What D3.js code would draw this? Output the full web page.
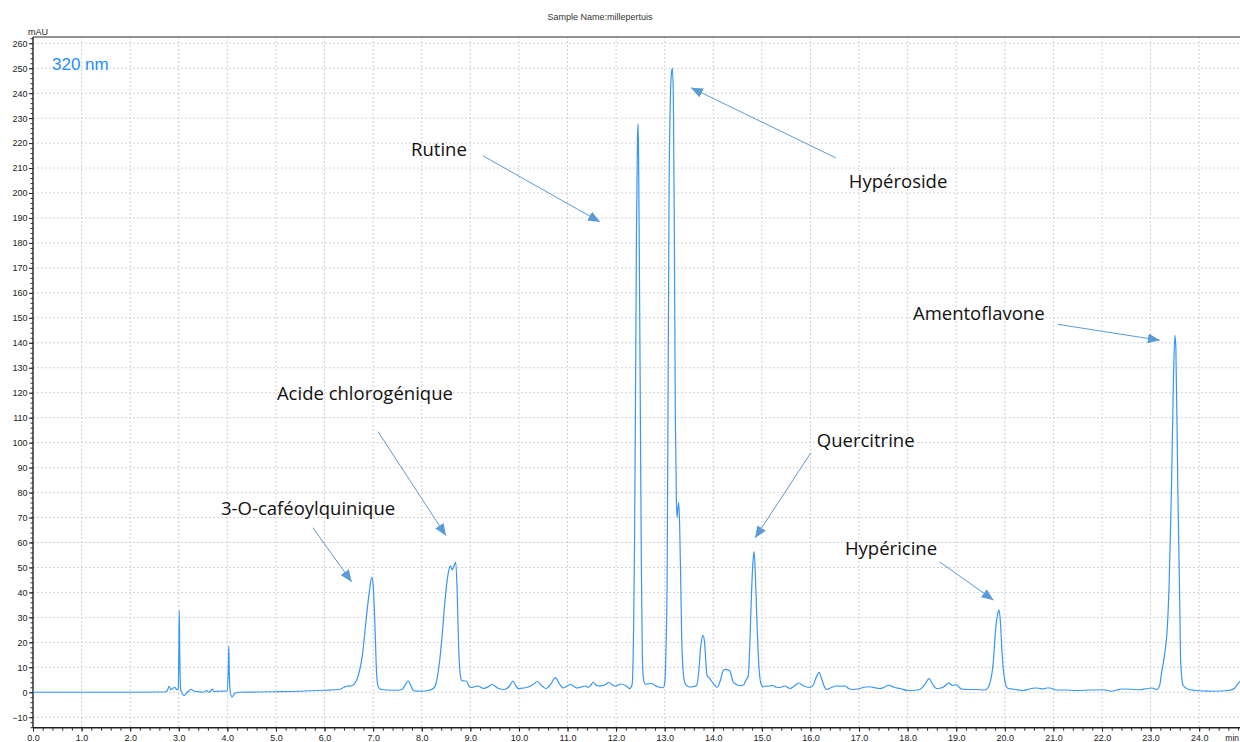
<!DOCTYPE html>
<html><head><meta charset="utf-8">
<script src="https://cdn.jsdelivr.net/npm/d3@7"></script>
<style>body{margin:0;background:#fff;overflow:hidden}</style>
</head><body>
<svg id="chart" width="1240" height="742"></svg>
<script>
// ---- data ----
const times = [0,1,2,2.7,2.76,2.8,2.84,2.88,2.92,2.96,2.99,3.0,3.01,3.02,3.04,3.08,3.11,3.16,3.21,3.25,3.3,3.4,3.5,3.57,3.62,3.66,3.69,3.73,3.85,4.0,4.02,4.03,4.04,4.06,4.1,4.15,4.25,4.6,5.0,5.5,6.0,6.3,6.4,6.45,6.55,6.62,6.7,6.78,6.85,6.92,6.97,7.0,7.04,7.07,7.1,7.15,7.3,7.5,7.6,7.66,7.72,7.78,7.83,8.0,8.15,8.24,8.3,8.37,8.43,8.48,8.54,8.59,8.63,8.67,8.7,8.73,8.76,8.79,8.82,8.87,8.92,8.97,9.02,9.1,9.16,9.27,9.37,9.45,9.57,9.7,9.8,9.88,9.93,9.99,10.1,10.19,10.3,10.38,10.47,10.56,10.66,10.75,10.83,10.91,11.0,11.06,11.13,11.19,11.28,11.36,11.43,11.48,11.53,11.58,11.63,11.74,11.8,11.85,11.92,11.98,12.05,12.11,12.2,12.28,12.33,12.36,12.38,12.4,12.42,12.44,12.45,12.46,12.48,12.5,12.52,12.54,12.56,12.6,12.67,12.74,12.8,12.87,12.97,13.0,13.03,13.05,13.07,13.09,13.12,13.14,13.16,13.18,13.2,13.22,13.24,13.255,13.27,13.29,13.31,13.33,13.35,13.37,13.4,13.43,13.52,13.6,13.66,13.7,13.74,13.79,13.82,13.85,13.87,13.93,13.98,14.03,14.08,14.15,14.2,14.24,14.3,14.34,14.38,14.41,14.48,14.55,14.62,14.68,14.72,14.75,14.78,14.81,14.84,14.87,14.9,14.94,14.98,15.03,15.06,15.14,15.23,15.3,15.37,15.47,15.58,15.67,15.76,15.85,15.99,16.06,16.12,16.18,16.22,16.28,16.33,16.44,16.54,16.63,16.71,16.78,16.85,17.0,17.1,17.22,17.33,17.43,17.52,17.61,17.72,17.84,18.01,18.15,18.25,18.35,18.44,18.52,18.59,18.66,18.73,18.85,18.92,18.97,19.01,19.06,19.11,19.25,19.42,19.59,19.66,19.69,19.73,19.76,19.81,19.86,19.88,19.91,19.94,19.97,20.0,20.04,20.07,20.2,20.38,20.5,20.62,20.7,20.79,20.86,20.93,21.06,21.25,21.47,21.75,22.02,22.2,22.3,22.4,22.6,22.78,22.9,23.02,23.08,23.12,23.19,23.22,23.26,23.3,23.33,23.36,23.38,23.43,23.47,23.5,23.52,23.56,23.6,23.62,23.67,23.77,24.0,24.3,24.6,24.72,24.78,24.84];
const mAU = [0,0,0,0.1,0.5,2.4,1.0,1.6,2.0,1.0,1.5,15,32.8,15,1,-0.8,-1.3,-0.3,0.6,1.2,0.6,0.2,0.0,0.7,0.0,0.5,1.3,0.3,0.4,0.5,10,18.5,8,0,-1.9,-0.5,0,0.1,0.2,0.4,0.8,1.1,2.0,2.4,2.5,3.5,7,15,28,40,46,43,25,8,2.5,1.2,0.9,0.8,1.2,3,4.5,2.5,0.6,0.4,0.8,1.5,4,12.8,25,37,47,50.6,49,51,52,40,18,7.6,4.8,4.5,4.5,2.5,1.9,2.3,2.5,1.5,2.2,3.1,1.6,1.1,2.3,4.5,2.8,1.5,1.7,2.1,3.2,4.3,2.6,1.5,3.4,5.9,3.5,1.7,2.6,3.1,2.4,1.7,2.1,2.5,2.0,2.8,4.0,3.0,2.5,2.7,3.3,4.0,3.0,2.4,3.0,3.3,2.6,1.5,3,25,60,120,185,222,227.7,220,170,110,50,15,6,3.2,3.4,3.5,2.7,2.1,1.8,3.5,20,45,120,200,240,248,250,235,180,110,78,70,73,76,65,45,22,11.5,5,3.2,2.1,2.3,2.8,8,18,22.8,20,11.5,6.8,5.5,4.0,2.8,2.0,5,8.5,9.2,8.9,8.6,6,4.1,3.1,2.6,2.9,5.1,6.5,18,36,50,56.3,45,27.6,10.2,3.5,2.1,2.4,2.5,2.7,2.0,1.9,2.5,1.5,2.5,3.7,2.6,1.9,3.0,6,8,6,2.5,1.1,2.0,2.5,2.4,2.5,1.6,1.1,1.4,2.0,2.2,1.8,1.5,2.0,2.8,2.0,1.5,0.7,0.8,1.1,3,5.5,3,1.5,1.6,2.0,3.7,2.7,2.9,3.0,2.0,1.3,1.1,1.1,0.9,2,3.5,7,11.5,25,32,33,28,17,9,4.8,2.0,1.5,1.2,0.7,1.3,1.7,1.6,1.3,1.7,1.7,0.9,0.9,0.7,0.9,1.0,0.4,0.9,1.3,1.2,1.0,1.4,1.7,1.5,1.0,3,7,11.5,17,22,32,42,82,125,143,138,82,36,11.6,2.8,1.2,0.6,0.4,0.7,1.5,3.0,4.5];

const xTickValues = d3.range(0, 25, 1);
const yTickValues = d3.range(-10, 261, 10);
const title = "Sample Name:millepertuis";
const yUnit = "mAU";
const xUnit = "min";
const wavelength = "320 nm";

// annotations: label anchor (time, mAU) and arrow from/to (time, mAU)
const annText  = ["Rutine","Hypéroside","Amentoflavone","Acide chlorogénique","Quercitrine","3-O-caféoylquinique","Hypéricine"];
const annT     = [7.78, 16.79, 18.11, 5.02, 16.13, 3.87, 16.71];
const annV     = [217.7, 205.2, 152.2, 120.1, 101.2, 73.9, 57.8];
const arrFromT = [9.26, 16.52, 21.09, 7.10, 16.01, 5.76, 18.66];
const arrFromV = [214.9, 214.1, 147.4, 104.4, 96.0, 65.9, 52.2];
const arrToT   = [11.67, 13.54, 23.19, 8.50, 14.86, 6.56, 19.77];
const arrToV   = [188.4, 242.2, 141.0, 62.7, 61.8, 44.2, 36.9];

// ---- layout ----
const L = 33, R = 1240, T = 37, B = 727.7;
const svg = d3.select("#chart");
const x = d3.scaleLinear().domain([0, 24.84]).range([L, R]);
const y = d3.scaleLinear().domain([-14.2, 262.5]).range([B, T]);

const axisFont = "'Liberation Sans', Arial, sans-serif";

// grid
const grid = svg.append("g");
grid.selectAll(".vg").data(xTickValues.filter(d => d > 0)).join("line")
  .attr("x1", d => x(d)).attr("x2", d => x(d)).attr("y1", T).attr("y2", B)
  .attr("stroke", "#d2d2d2").attr("stroke-width", 1).attr("stroke-dasharray", "2,2");
grid.selectAll(".hg").data(yTickValues).join("line")
  .attr("x1", L).attr("x2", R).attr("y1", d => y(d)).attr("y2", d => y(d))
  .attr("stroke", "#d2d2d2").attr("stroke-width", 1).attr("stroke-dasharray", "2,2");

// top border
svg.append("line").attr("x1", L).attr("x2", R).attr("y1", T).attr("y2", T)
  .attr("stroke", "#6e6e6e").attr("stroke-width", 1.6);

// x axis
const xMinor = d3.axisBottom(x).tickValues(d3.range(0, 24.9, 0.2)).tickSize(3).tickFormat("");
svg.append("g").attr("transform", `translate(0,${B})`).call(xMinor)
  .call(g => g.select(".domain").remove())
  .selectAll("line").attr("stroke", "#333");
const xAxis = d3.axisBottom(x).tickValues(xTickValues).tickSize(4).tickPadding(3)
  .tickFormat(d3.format(".1f"));
svg.append("g").attr("transform", `translate(0,${B})`).call(xAxis)
  .call(g => g.select(".domain").attr("stroke", "#222").attr("stroke-width", 1.4).attr("d", `M${L},0H${R}`))
  .call(g => g.selectAll("text").attr("font-family", axisFont).attr("font-size", 9).attr("fill", "#222"))
  .call(g => g.selectAll(".tick line").attr("stroke", "#222"));
svg.append("text").attr("x", 1239).attr("y", 741).attr("text-anchor", "end")
  .attr("font-family", axisFont).attr("font-size", 8.5).attr("fill", "#222").text(xUnit);

// y axis
const yMinor = d3.axisLeft(y).tickValues(d3.range(-14, 263, 2)).tickSize(2.5).tickFormat("");
svg.append("g").attr("transform", `translate(${L},0)`).call(yMinor)
  .call(g => g.select(".domain").remove())
  .selectAll("line").attr("stroke", "#333");
const yAxis = d3.axisLeft(y).tickValues(yTickValues).tickSize(4).tickPadding(1.5);
svg.append("g").attr("transform", `translate(${L},0)`).call(yAxis)
  .call(g => g.select(".domain").attr("stroke", "#222").attr("stroke-width", 1.4).attr("d", `M0,${T}V${B}`))
  .call(g => g.selectAll("text").attr("font-family", axisFont).attr("font-size", 9).attr("fill", "#222"))
  .call(g => g.selectAll(".tick line").attr("stroke", "#222"));

// labels
svg.append("text").attr("x", 28).attr("y", 35).attr("font-family", axisFont)
  .attr("font-size", 9).attr("fill", "#222").text(yUnit);
svg.append("text").attr("x", 600).attr("y", 20).attr("text-anchor", "middle")
  .attr("font-family", axisFont).attr("font-size", 9).attr("fill", "#333").text(title);
svg.append("text").attr("x", 52).attr("y", 70).attr("font-family", axisFont)
  .attr("font-size", 17).attr("fill", "#1f8fff").text(wavelength);

// chromatogram
const pts = times.map((t, i) => [t, mAU[i]]);
svg.append("path").datum(pts)
  .attr("fill", "none").attr("stroke", "#3796f7").attr("stroke-width", 1.2)
  .attr("stroke-linejoin", "round")
  .attr("d", d3.line().x(d => x(d[0])).y(d => y(d[1])).curve(d3.curveMonotoneX));

// arrows
const defs = svg.append("defs");
defs.append("marker").attr("id", "ah").attr("markerUnits", "userSpaceOnUse")
  .attr("viewBox", "0 0 12 10").attr("refX", 12).attr("refY", 5)
  .attr("markerWidth", 12).attr("markerHeight", 10).attr("orient", "auto")
  .append("path").attr("d", "M0,0L12,5L0,10Z").attr("fill", "#5b9bd5");

const ann = svg.append("g");
annText.forEach((txt, i) => {
  ann.append("line")
    .attr("x1", x(arrFromT[i])).attr("y1", y(arrFromV[i]))
    .attr("x2", x(arrToT[i])).attr("y2", y(arrToV[i]))
    .attr("stroke", "#5b9bd5").attr("stroke-width", 1)
    .attr("marker-end", "url(#ah)");
  ann.append("text").attr("x", x(annT[i])).attr("y", y(annV[i]))
    .attr("dominant-baseline", "central")
    .attr("font-family", "'Open Sans', sans-serif").attr("font-size", 18.5)
    .attr("fill", "#111").text(txt);
});
</script>
</body></html>
